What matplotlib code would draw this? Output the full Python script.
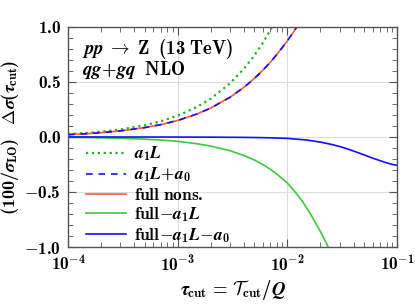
import numpy as np
import matplotlib
matplotlib.use('Agg')
import matplotlib.pyplot as plt
import matplotlib.ticker as ticker

plt.rcParams.update({
    'mathtext.fontset': 'custom',
    'mathtext.rm': 'cmb10',
    'mathtext.bf': 'cmb10',
    'mathtext.it': 'STIXGeneral:italic:bold',
    'mathtext.cal': 'cmsy10',
    'mathtext.fallback': 'cm',
    'font.family': ['cmb10', 'DejaVu Serif'],
    'font.size': 11,
})

# tau_cut grid + curves
tau_lin = [1e-4, 1.5e-4, 2e-4, 3e-4, 5e-4, 7e-4, 1e-3, 1.5e-3, 2e-3, 3e-3,
           4e-3, 5e-3, 6e-3, 7e-3, 8e-3]
a1L = [0.026, 0.037, 0.048, 0.068, 0.106, 0.142, 0.193, 0.273, 0.348, 0.488,
       0.618, 0.742, 0.859, 0.973, 1.081]

tau_full = [1e-4, 1.5e-4, 2e-4, 3e-4, 5e-4, 7e-4, 1e-3, 1.5e-3, 2e-3, 3e-3,
            4e-3, 5e-3, 6e-3, 7e-3, 8e-3, 9e-3, 1e-2, 1.1e-2, 1.2e-2, 1.3e-2, 1.4e-2]
a1L_a0 = [0.021, 0.030, 0.039, 0.055, 0.085, 0.112, 0.150, 0.209, 0.263, 0.361,
          0.450, 0.532, 0.609, 0.681, 0.749, 0.814, 0.875, 0.934, 0.990, 1.045, 1.097]
full_nons = [0.021, 0.030, 0.039, 0.055, 0.085, 0.112, 0.150, 0.209, 0.263, 0.361,
             0.450, 0.532, 0.609, 0.681, 0.749, 0.814, 0.875, 0.934, 0.990, 1.045, 1.097]

tau_g = [1e-4, 2e-4, 3e-4, 5e-4, 7e-4, 1e-3, 1.5e-3, 2e-3, 3e-3, 4e-3, 5e-3, 6e-3,
         7e-3, 8e-3, 9e-3, 1e-2, 1.2e-2, 1.4e-2, 1.6e-2, 1.8e-2, 2e-2, 2.2e-2, 2.4e-2, 2.6e-2]
full_m_a1L = [-0.004, -0.008, -0.012, -0.020, -0.028, -0.040, -0.062, -0.083, -0.125,
              -0.168, -0.210, -0.252, -0.295, -0.337, -0.380, -0.420, -0.510, -0.600,
              -0.690, -0.780, -0.860, -0.940, -1.020, -1.100]

tau_b = [1e-4, 1e-3, 2e-3, 3e-3, 5e-3, 7e-3, 1e-2, 1.5e-2, 2e-2, 2.5e-2, 3e-2, 3.5e-2,
         4e-2, 5e-2, 6e-2, 7e-2, 8e-2, 9e-2, 1e-1]
full_m_a1L_a0 = [0.0, -0.001, -0.002, -0.003, -0.005, -0.008, -0.013, -0.028, -0.047,
                 -0.067, -0.087, -0.108, -0.128, -0.163, -0.193, -0.216, -0.235, -0.249, -0.258]

labels = [r'$a_1L$', r'$a_1L\!+\!a_0$', r'$\mathrm{full\ nons.}$',
          r'$\mathrm{full}\!-\!a_1L$', r'$\mathrm{full}\!-\!a_1L\!-\!a_0$']

c_red = '#fa5a2c'
c_green = '#3ec83e'
c_dot = '#22b022'
c_blue = '#1010ff'

fig = plt.figure(figsize=(4.15, 3.04), dpi=100)
ax = fig.add_axes([0.164, 0.1875, 0.793, 0.724])

lw = 1.2
l1, = ax.plot(tau_lin, a1L, ':', color=c_dot, lw=1.6)
l3, = ax.plot(tau_full, full_nons, '-', color=c_red, lw=lw)
l2, = ax.plot(tau_full, a1L_a0, '--', color=c_blue, lw=lw, dashes=(4, 3.5))
l4, = ax.plot(tau_g, full_m_a1L, '-', color=c_green, lw=lw)
l5, = ax.plot(tau_b, full_m_a1L_a0, '-', color=c_blue, lw=lw)

ax.set_xscale('log')
ax.set_xlim(1e-4, 1e-1)
ax.set_ylim(-1.0, 1.0)

ax.yaxis.set_major_locator(ticker.MultipleLocator(0.5))
ax.yaxis.set_minor_locator(ticker.MultipleLocator(0.1))
ax.yaxis.set_major_formatter(ticker.FuncFormatter(lambda v, p: '$%.1f$' % v))
ax.xaxis.set_major_locator(ticker.LogLocator(base=10, numticks=10))
ax.xaxis.set_minor_locator(ticker.LogLocator(base=10, subs=np.arange(2, 10), numticks=20))
ax.xaxis.set_major_formatter(ticker.FuncFormatter(
    lambda v, p: r'$10^{%d}$' % int(round(np.log10(v)))))
ax.xaxis.set_minor_formatter(ticker.NullFormatter())

ax.tick_params(which='both', direction='in', top=True, right=True, color='#555555')
ax.tick_params(which='major', length=6, width=0.8, labelsize=12.5, pad=5)
ax.tick_params(which='minor', length=3.5, width=0.6)
for s in ax.spines.values():
    s.set_color('#555555')
    s.set_linewidth(1.0)
ax.grid(True, which='major', color='#dddddd', lw=0.8)
ax.set_axisbelow(True)

ax.set_xlabel(r'$\tau_{\mathrm{cut}}\,=\,\mathcal{T}_{\mathrm{cut}}/Q$', fontsize=13.5, labelpad=3)
ax.set_ylabel(r'$(100/\sigma_{\mathrm{LO}})\ \ \ \Delta\sigma(\tau_{\mathrm{cut}})$',
              fontsize=13, labelpad=2)

ax.text(0.043, 0.9, r'$pp\ \rightarrow\ \mathrm{Z}\ \ \mathrm{(13\ TeV)}$', transform=ax.transAxes,
        fontsize=13.5, va='center')
ax.text(0.043, 0.805, r'$qg\!+\!gq\ \ \mathrm{NLO}$', transform=ax.transAxes,
        fontsize=13.5, va='center')

ax.legend([l1, l2, l3, l4, l5], labels, loc='upper left', bbox_to_anchor=(0.055, 0.465),
          frameon=False, fontsize=12.5, handlelength=2.3, handletextpad=0.45,
          labelspacing=0.15, borderaxespad=0.0, borderpad=0.0)

plt.savefig('out.png', dpi=100)
